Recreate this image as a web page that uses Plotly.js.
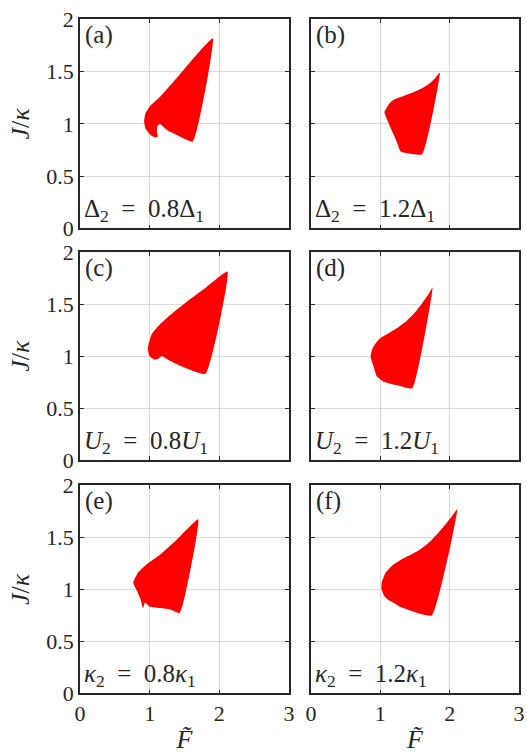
<!DOCTYPE html>
<html>
<head>
<meta charset="utf-8">
<script src="https://cdn.plot.ly/plotly-3.0.1.min.js"></script>
<style>
  html, body { margin: 0; padding: 0; background: #fff; }
  #fig { width: 527px; height: 754px; }
</style>
</head>
<body>
<div id="fig"></div>
<script>
// outlines of the red regions (F, J/kappa)
var aF = [1.907, 1.629, 1.414, 1.150, 1.006, 0.939, 0.920, 0.939, 0.997, 1.064, 1.117, 1.102, 1.112, 1.150, 1.246, 1.390, 1.620];
var aJ = [1.818, 1.627, 1.458, 1.260, 1.171, 1.100, 1.021, 0.957, 0.903, 0.874, 0.877, 0.935, 0.979, 0.998, 0.941, 0.893, 0.829];

var bF = [1.859, 1.790, 1.716, 1.620, 1.524, 1.430, 1.332, 1.250, 1.188, 1.140, 1.107, 1.059, 1.141, 1.227, 1.294, 1.380, 1.605];
var bJ = [1.490, 1.435, 1.388, 1.348, 1.317, 1.290, 1.266, 1.246, 1.228, 1.202, 1.171, 1.113, 0.973, 0.845, 0.734, 0.718, 0.708];

var cF = [2.118, 1.821, 1.534, 1.294, 1.126, 1.030, 0.987, 0.973, 0.997, 1.064, 1.126, 1.174, 1.270, 1.462, 1.802];
var cJ = [1.814, 1.669, 1.525, 1.396, 1.291, 1.213, 1.124, 1.066, 1.002, 0.967, 0.976, 1.002, 0.963, 0.900, 0.829];

var dF = [1.753, 1.690, 1.619, 1.540, 1.452, 1.360, 1.261, 1.160, 1.070, 0.995, 0.951, 0.889, 0.860, 0.903, 0.951, 1.046, 1.261, 1.462];
var dJ = [1.660, 1.590, 1.525, 1.455, 1.387, 1.328, 1.278, 1.237, 1.201, 1.170, 1.140, 1.075, 0.995, 0.899, 0.803, 0.754, 0.717, 0.690];

var eF = [1.697, 1.385, 1.144, 0.962, 0.846, 0.788, 0.764, 0.822, 0.870, 0.904, 0.933, 1.000, 1.144, 1.288, 1.433];
var eJ = [1.673, 1.474, 1.330, 1.244, 1.170, 1.106, 1.064, 0.978, 0.901, 0.817, 0.872, 0.833, 0.821, 0.808, 0.772];

var fF = [2.109, 2.020, 1.936, 1.840, 1.744, 1.650, 1.553, 1.430, 1.313, 1.169, 1.073, 1.021, 1.016, 1.059, 1.121, 1.198, 1.289, 1.457, 1.744];
var fJ = [1.770, 1.692, 1.620, 1.545, 1.476, 1.420, 1.374, 1.330, 1.291, 1.227, 1.157, 1.067, 1.003, 0.933, 0.895, 0.869, 0.831, 0.789, 0.748];

var sp = '\u2002';
var panelTags = ['(a)', '(b)', '(c)', '(d)', '(e)', '(f)'];
var panelNotes = [
  'Δ<sub>2</sub>' + sp + '=' + sp + '0.8Δ<sub>1</sub>',
  'Δ<sub>2</sub>' + sp + '=' + sp + '1.2Δ<sub>1</sub>',
  '<i>U</i><sub>2</sub>' + sp + '=' + sp + '0.8<i>U</i><sub>1</sub>',
  '<i>U</i><sub>2</sub>' + sp + '=' + sp + '1.2<i>U</i><sub>1</sub>',
  '<i>κ</i><sub>2</sub>' + sp + '=' + sp + '0.8<i>κ</i><sub>1</sub>',
  '<i>κ</i><sub>2</sub>' + sp + '=' + sp + '1.2<i>κ</i><sub>1</sub>'
];
var xTicks = [0, 1, 2, 3];
var yTicks = [0, 0.5, 1, 1.5, 2];

var shapesF = [aF, bF, cF, dF, eF, fF];
var shapesJ = [aJ, bJ, cJ, dJ, eJ, fJ];

var font = 'Liberation Serif';
var colDom = [[0.1518, 0.5484], [0.5901, 0.9848]];
var rowDom = [[0.6972, 0.9744], [0.3899, 0.6654], [0.0805, 0.3564]];

var data = [];
var layout = {
  width: 527,
  height: 754,
  margin: {l: 0, r: 0, t: 0, b: 0},
  paper_bgcolor: '#fff',
  plot_bgcolor: '#fff',
  showlegend: false,
  font: {family: font, size: 22, color: '#262626'},
  annotations: []
};

for (var i = 0; i < 6; i++) {
  var n = i === 0 ? '' : String(i + 1);
  var row = Math.floor(i / 2), col = i % 2;
  data.push({
    x: shapesF[i].concat([shapesF[i][0]]),
    y: shapesJ[i].concat([shapesJ[i][0]]),
    xaxis: 'x' + n,
    yaxis: 'y' + n,
    type: 'scatter',
    mode: 'lines',
    fill: 'toself',
    fillcolor: '#ff0000',
    line: {width: 0, color: '#ff0000', shape: 'spline', smoothing: 0.4},
    hoverinfo: 'skip'
  });

  var common = {
    showline: true,
    mirror: 'ticks',
    linecolor: '#262626',
    linewidth: 1.5,
    ticks: 'inside',
    ticklen: 4,
    tickcolor: '#262626',
    showgrid: true,
    gridcolor: '#dadada',
    gridwidth: 1,
    zeroline: false,
    fixedrange: true
  };
  layout['xaxis' + n] = Object.assign({}, common, {
    domain: colDom[col],
    anchor: 'y' + n,
    range: [0, 3],
    tickvals: xTicks,
    showticklabels: row === 2,
    tickfont: {size: 22},
    title: row === 2 ? {text: '<i>F̃</i>', font: {size: 26}, standoff: 8} : {text: ''}
  });
  layout['yaxis' + n] = Object.assign({}, common, {
    domain: rowDom[row],
    anchor: 'x' + n,
    range: [0, 2],
    tickvals: yTicks,
    showticklabels: col === 0,
    tickfont: {size: 22},
    title: col === 0 ? {text: '<i>J</i>/<i>κ</i>', font: {size: 26}, standoff: 9} : {text: ''}
  });

  layout.annotations.push({
    xref: 'x' + n + ' domain', yref: 'y' + n + ' domain',
    x: 0.015, y: 1.0, xanchor: 'left', yanchor: 'top',
    text: panelTags[i], showarrow: false,
    font: {size: 25, color: '#262626'}
  });
  layout.annotations.push({
    xref: 'x' + n + ' domain', yref: 'y' + n + ' domain',
    x: 0.01, y: 0.0, xanchor: 'left', yanchor: 'bottom',
    text: panelNotes[i], showarrow: false,
    font: {size: 25, color: '#262626'}
  });
}

Plotly.newPlot('fig', data, layout, {displayModeBar: false}).then(function (gd) {
  // give every text piece an explicit size attribute too
  gd.querySelectorAll('text, tspan').forEach(function (t) {
    var cs = window.getComputedStyle(t);
    t.setAttribute('font-size', cs.fontSize);
    t.setAttribute('font-family', cs.fontFamily);
  });
});
</script>
</body>
</html>
